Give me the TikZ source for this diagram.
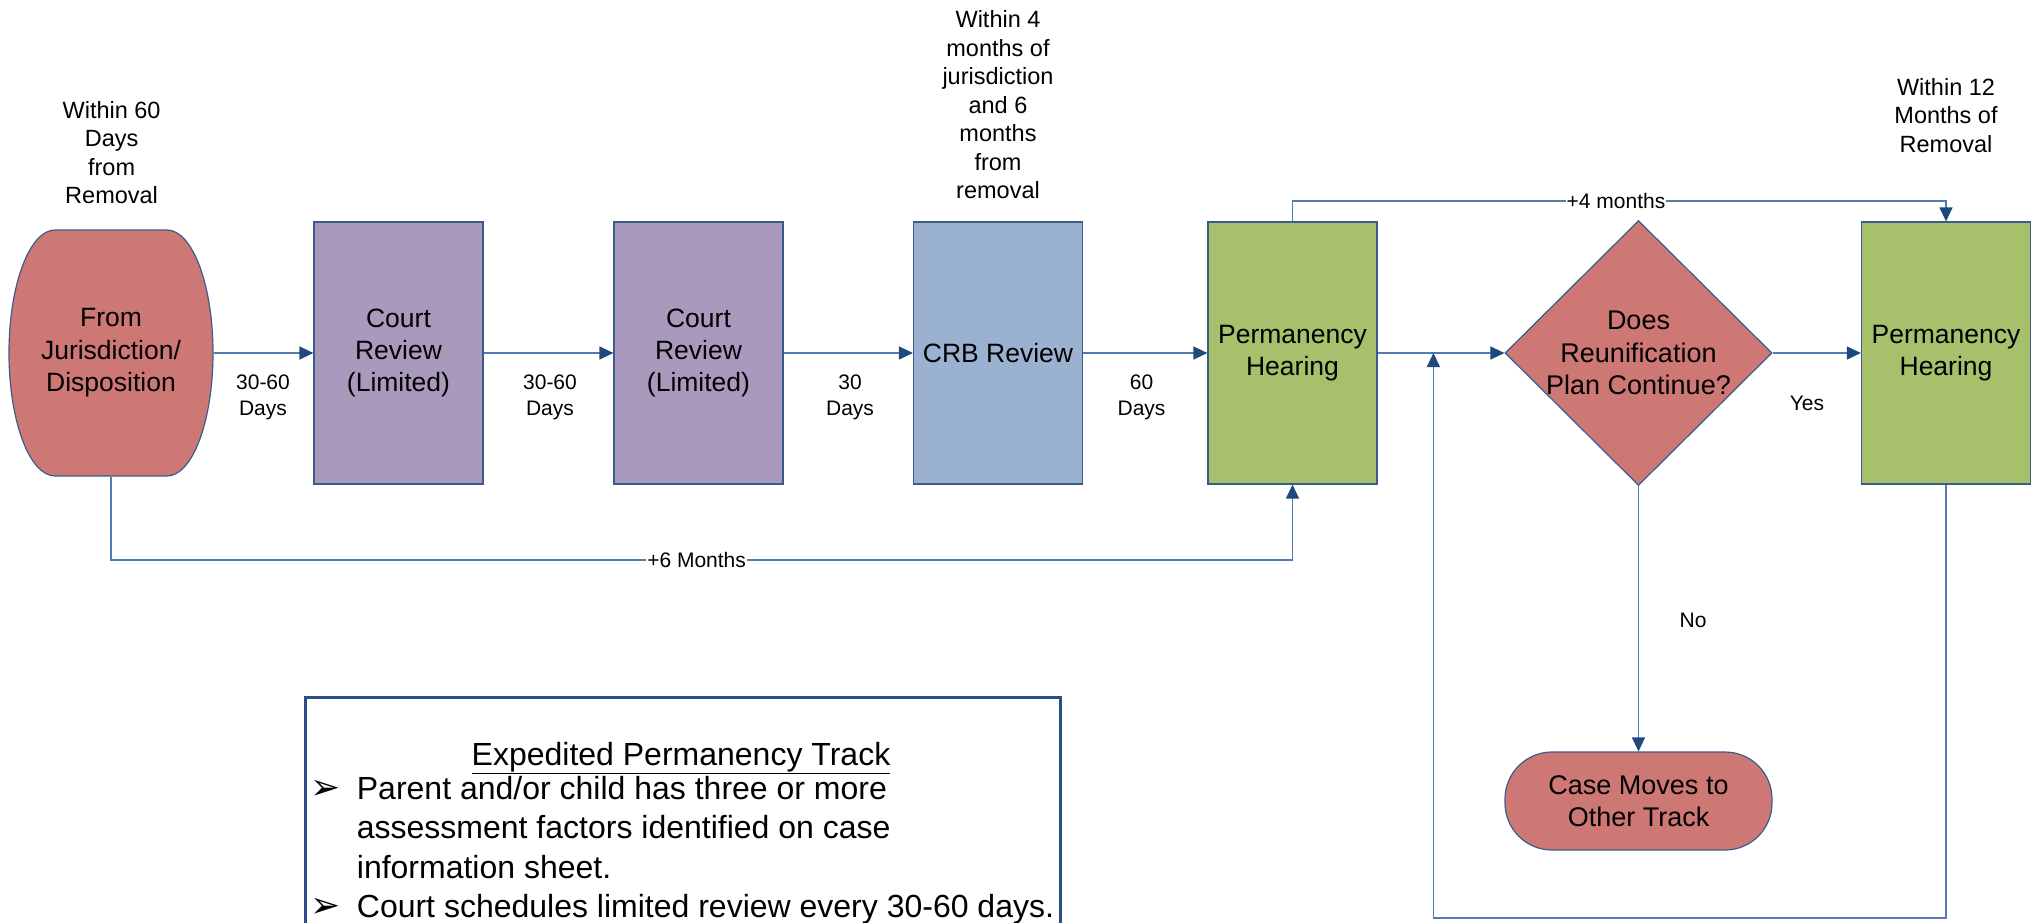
\documentclass[tikz,border=0pt]{standalone}
\usepackage{fontspec}
\setmainfont{Liberation Sans}
\newfontfamily\dejavu{DejaVu Sans}
\usetikzlibrary{arrows.meta,shapes.geometric,calc}
\definecolor{redf}{RGB}{206,120,117}
\definecolor{purf}{RGB}{169,154,189}
\definecolor{bluef}{RGB}{154,178,208}
\definecolor{greenf}{RGB}{166,192,107}
\definecolor{edgec}{RGB}{58,92,140}
\definecolor{linec}{RGB}{84,122,178}
\definecolor{tipc}{RGB}{31,73,125}
\definecolor{legc}{RGB}{40,80,135}
\tikzset{
  stepbox/.style={draw=edgec, line width=1.2pt, minimum width=169pt, minimum height=262pt,
    inner sep=0pt, align=center, font=\fontsize{26.5}{32.4}\selectfont},
  conn/.style={draw=linec, line width=1.3pt, -{Triangle[length=14pt,width=13pt,color=tipc,fill=tipc]}},
  lbl/.style={align=center, inner sep=0pt, font=\fontsize{21}{26}\selectfont},
  onlbl/.style={inner sep=1pt, fill=white, font=\fontsize{21}{26}\selectfont},
  toplbl/.style={align=center, inner sep=0pt, font=\fontsize{23.5}{28.5}\selectfont},
  bigtxt/.style={align=center, inner sep=0pt, font=\fontsize{27}{32.4}\selectfont},
  legtxt/.style={inner sep=0pt, anchor=base west, font=\fontsize{32}{41.5}\selectfont},
  bullet/.style={inner sep=0pt, anchor=base, font=\dejavu\fontsize{36}{40}\selectfont},
}
\begin{document}
\begin{tikzpicture}[x=1pt,y=-1pt]
\useasboundingbox (0,0) rectangle (2034,922);

% barrel shape for start node
\path[draw=edgec, fill=redf, line width=1.2pt]
  (55,230) -- (167,230) .. controls (192.4,230) and (213,285) .. (213,353)
  .. controls (213,421) and (192.4,476) .. (167,476) -- (55,476)
  .. controls (29.6,476) and (9,421) .. (9,353)
  .. controls (9,285) and (29.6,230) .. (55,230) -- cycle;
\node[stepbox, draw=none, minimum width=204pt, minimum height=246pt] (start) at (111,353)
  {From\\Jurisdiction/\\Disposition};

\node[stepbox, fill=purf] (cr1) at (398.5,353) {Court\\Review\\(Limited)};
\node[stepbox, fill=purf] (cr2) at (698.5,353) {Court\\Review\\(Limited)};
\node[stepbox, fill=bluef] (crb) at (998,353) {CRB Review};
\node[stepbox, fill=greenf] (pm1) at (1292.5,353) {Permanency\\Hearing};
\node[draw=edgec, line width=1.2pt, fill=redf, diamond, aspect=1, inner sep=0pt,
  minimum width=267pt, minimum height=265pt] (dia) at (1638.5,353) {};
\node[bigtxt] (diatext) at (dia.center) {Does\\Reunification\\Plan Continue?};
\node[stepbox, fill=greenf] (pm2) at (1946,353) {Permanency\\Hearing};
\node[bigtxt, draw=edgec, line width=1.2pt, fill=redf, rounded corners=47pt,
  minimum width=267pt, minimum height=98pt] (oval) at (1638.5,801) {Case Moves to\\Other Track};

% labels
\node[toplbl] (t60) at (111.6,152.5) {Within 60\\Days\\from\\Removal};
\node[toplbl] (t4) at (998,105) {Within 4\\months of\\jurisdiction\\and 6\\months\\from\\removal};
\node[toplbl] (t12) at (1946,115.5) {Within 12\\Months of\\Removal};
\node[lbl] (l1) at (263,397) {30-60\\Days};
\node[lbl] (l2) at (550,397) {30-60\\Days};
\node[lbl] (l3) at (850,397) {30\\Days};
\node[lbl] (l4) at (1141.5,397) {60\\Days};
\node[lbl] (lyes) at (1807,403) {Yes};
\node[lbl] (lno) at (1693,620) {No};

% connectors
\draw[conn] (start.east) -- (cr1.west);
\draw[conn] (cr1.east) -- (cr2.west);
\draw[conn] (cr2.east) -- (crb.west);
\draw[conn] (crb.east) -- (pm1.west);
\draw[conn] (pm1.east) -- (dia.west);
\draw[conn] (dia.east) -- (pm2.west);
\draw[conn] (dia.south) -- (oval.north);

\coordinate (six) at (111,560);
\draw[conn] (start.south) -- (six) -| (pm1.south);
\node[onlbl] (l6) at (696.6,560) {+6 Months};

\coordinate (four) at (1292.5,201);
\draw[conn] (pm1.north) -- (four) -| (pm2.north);
\node[onlbl] (l4m) at (1616,201) {+4 months};

\coordinate (loopc) at (1946,918);
\coordinate (junc) at (1433.4,353);
\draw[conn] (pm2.south) -- (loopc) -| (junc);

% legend
\node[draw=legc, line width=3pt, minimum width=755pt, minimum height=260pt,
  anchor=north west, inner sep=0pt] (legend) at (303.5,695.5) {};
\node[inner sep=0pt, anchor=base, font=\fontsize{32}{41.5}\selectfont] (ltitle) at (681,765.5)
  {\underline{Expedited Permanency Track}};
\node[bullet] (b1) at (326,799) {➢};
\node[legtxt] (p1) at (356.7,799) {Parent and/or child has three or more};
\node[legtxt] (p2) at (356.7,838.5) {assessment factors identified on case};
\node[legtxt] (p3) at (356.7,878) {information sheet.};
\node[bullet] (b2) at (326,917) {➢};
\node[legtxt] (p4) at (356.7,917) {Court schedules limited review every 30-60 days.};
\end{tikzpicture}
\end{document}
